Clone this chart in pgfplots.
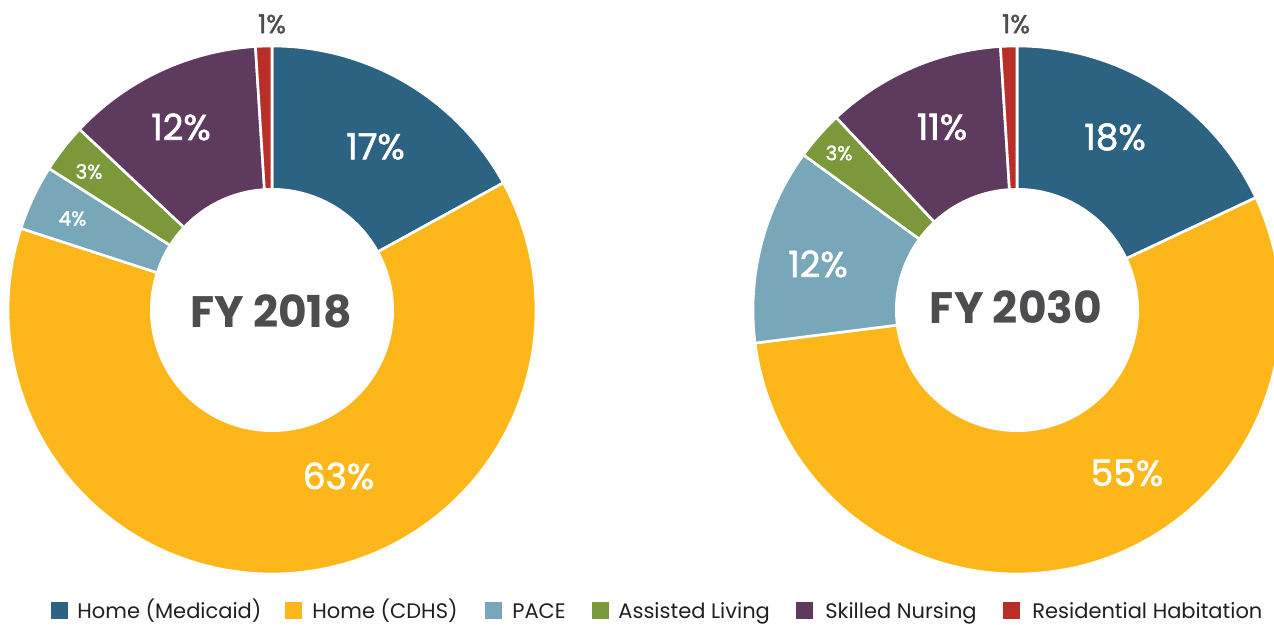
\documentclass[border=0pt]{standalone}
\usepackage{pgfplots}
\pgfplotsset{compat=1.18}
\usepackage{pgfplotstable}
\usepackage{fontspec}
\setmainfont{Poppins}
\newfontfamily\medfont{Poppins}[FakeBold=1.6]
\definecolor{cMed}{HTML}{2D6382}
\definecolor{cCDHS}{HTML}{FDB71A}
\definecolor{cPACE}{HTML}{79A7BA}
\definecolor{cAL}{HTML}{7B983B}
\definecolor{cSN}{HTML}{5E3A5F}
\definecolor{cRH}{HTML}{B92F28}
\definecolor{cTxt}{HTML}{4D4D4F}
\definecolor{cLeg}{HTML}{231F20}

% shares in percent, clockwise from the top
\pgfplotstableread{
cat  fy2018 fy2030
Med  17 18
CDHS 63 55
PACE 4  12
AL   3  3
SN   12 11
RH   1  1
}\shares

\newcommand\resetcum{\gdef\cum{0}}
% #1 cx, #2 cy, #3 pct, #4 colour, #5 extra options
\newcommand\Wedge[5]{%
  \pgfmathsetmacro\wa{3.6*\cum}%
  \pgfmathsetmacro\wb{3.6*(\cum+#3)}%
  \pgfmathsetmacro\newcum{\cum+#3}\xdef\cum{\newcum}%
  \edef\tmp{\noexpand\addplot[fill=#4, draw=white, line width=1.3pt, line join=round, domain=\wa:\wb, samples=120, #5]
    ({#1+264*sin(x)},{#2+264*cos(x)}) -- (axis cs:#1,#2) -- cycle;}%
  \tmp
}
\newcommand\Hole[2]{%
  \addplot[fill=white, draw=none, domain=0:360, samples=180, forget plot]
    ({#1+122*sin(x)},{#2+122*cos(x)}) -- cycle;
}
% legend key: #1 x of square, #2 x of text, #3 colour, #4 text
\newcommand\Key[4]{%
  \fill[#3] (axis cs:#1,6) rectangle (axis cs:#1+17,23);
  \node[anchor=base west, inner sep=0pt, text=cLeg, font=\fontsize{10.5pt}{12pt}\selectfont] at (axis cs:#2,6.5) {#4};
}

\begin{document}
\begin{tikzpicture}
\begin{axis}[
  width=637pt, height=312.5pt, scale only axis,
  xmin=0, xmax=1274, ymin=0, ymax=625,
  axis lines=none, clip=false,
]
% FY 2018
\resetcum
\pgfplotstablegetelem{0}{fy2018}\of\shares \Wedge{272}{315}{\pgfplotsretval}{cMed}{}
\pgfplotstablegetelem{1}{fy2018}\of\shares \Wedge{272}{315}{\pgfplotsretval}{cCDHS}{}
\pgfplotstablegetelem{2}{fy2018}\of\shares \Wedge{272}{315}{\pgfplotsretval}{cPACE}{}
\pgfplotstablegetelem{3}{fy2018}\of\shares \Wedge{272}{315}{\pgfplotsretval}{cAL}{}
\pgfplotstablegetelem{4}{fy2018}\of\shares \Wedge{272}{315}{\pgfplotsretval}{cSN}{}
\pgfplotstablegetelem{5}{fy2018}\of\shares \Wedge{272}{315}{\pgfplotsretval}{cRH}{}
\Hole{272}{315}
% FY 2030
\resetcum
\pgfplotstablegetelem{0}{fy2030}\of\shares \Wedge{1017}{315}{\pgfplotsretval}{cMed}{}
\pgfplotstablegetelem{1}{fy2030}\of\shares \Wedge{1017}{315}{\pgfplotsretval}{cCDHS}{}
\pgfplotstablegetelem{2}{fy2030}\of\shares \Wedge{1017}{315}{\pgfplotsretval}{cPACE}{}
\pgfplotstablegetelem{3}{fy2030}\of\shares \Wedge{1017}{315}{\pgfplotsretval}{cAL}{}
\pgfplotstablegetelem{4}{fy2030}\of\shares \Wedge{1017}{315}{\pgfplotsretval}{cSN}{}
\pgfplotstablegetelem{5}{fy2030}\of\shares \Wedge{1017}{315}{\pgfplotsretval}{cRH}{}
\Hole{1017}{315}

% labels
\begin{scope}[every node/.style={text=white, inner sep=0pt}]
\node[font=\fontsize{18pt}{20pt}\medfont] at (axis cs:375.5,478.5) {17\%};
\node[font=\fontsize{18pt}{20pt}\medfont] at (axis cs:338.5,149) {63\%};
\node[font=\fontsize{10pt}{12pt}\medfont] at (axis cs:72.5,406.5) {4\%};
\node[font=\fontsize{10pt}{12pt}\medfont] at (axis cs:89,453.5) {3\%};
\node[font=\fontsize{18pt}{20pt}\medfont] at (axis cs:181,498) {12\%};
\node[font=\fontsize{18pt}{20pt}\medfont] at (axis cs:1115,488) {18\%};
\node[font=\fontsize{18pt}{20pt}\medfont] at (axis cs:1127,152) {55\%};
\node[font=\fontsize{18pt}{20pt}\medfont] at (axis cs:818,361) {12\%};
\node[font=\fontsize{10pt}{12pt}\medfont] at (axis cs:839,472) {3\%};
\node[font=\fontsize{18pt}{20pt}\medfont] at (axis cs:942,498) {11\%};
\end{scope}
\node[text=cTxt, inner sep=0pt, font=\fontsize{13pt}{15pt}\medfont] at (axis cs:272,601) {1\%};
\node[text=cTxt, inner sep=0pt, font=\fontsize{13pt}{15pt}\medfont] at (axis cs:1016,601) {1\%};
\node[text=cTxt, inner sep=0pt, font=\fontsize{22pt}{26pt}\selectfont\bfseries] at (axis cs:271,314) {FY 2018};
\node[text=cTxt, inner sep=0pt, font=\fontsize{22pt}{26pt}\selectfont\bfseries] at (axis cs:1016,318) {FY 2030};

% legend
\Key{51}{77}{cMed}{Home (Medicaid)}
\Key{285}{312}{cCDHS}{Home (CDHS)}
\Key{485}{512}{cPACE}{PACE}
\Key{592}{618}{cAL}{Assisted Living}
\Key{796}{825}{cSN}{Skilled Nursing}
\Key{1003}{1032}{cRH}{Residential Habitation}
\end{axis}
\pgfresetboundingbox
\path (current axis.south west) rectangle (current axis.north east);
\end{tikzpicture}
\end{document}
